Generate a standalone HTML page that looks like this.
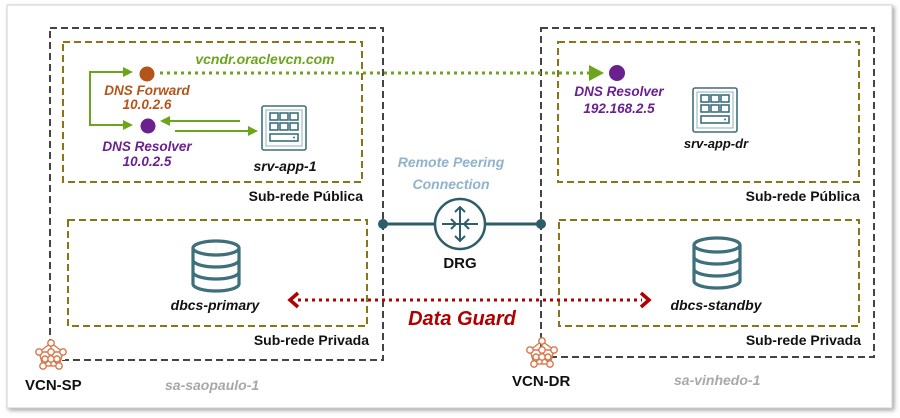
<!DOCTYPE html>
<html><head><meta charset="utf-8"><style>
html,body{margin:0;padding:0;background:#fff;}
svg{display:block;font-family:"Liberation Sans",sans-serif;}
</style></head><body>
<svg width="900" height="418" viewBox="0 0 900 418" xmlns="http://www.w3.org/2000/svg">
<defs>
<filter id="sh" x="-5%" y="-5%" width="110%" height="110%"><feDropShadow dx="2" dy="2" stdDeviation="2" flood-color="#000" flood-opacity="0.35"/></filter>
<g id="srv">
<rect x="0" y="0" width="44" height="44" rx="2" fill="#fff" stroke="#3d6f7c" stroke-width="1.6"/>
<rect x="4" y="4" width="36" height="36" fill="none" stroke="#8fb0b8" stroke-width="1"/>
<rect x="8" y="7" width="8" height="7" fill="none" stroke="#3d6f7c" stroke-width="1.6"/>
<rect x="18" y="7" width="8" height="7" fill="none" stroke="#3d6f7c" stroke-width="1.6"/>
<rect x="28" y="7" width="8" height="7" fill="none" stroke="#3d6f7c" stroke-width="1.6"/>
<rect x="8" y="17" width="8" height="7" fill="none" stroke="#3d6f7c" stroke-width="1.6"/>
<rect x="18" y="17" width="8" height="7" fill="none" stroke="#3d6f7c" stroke-width="1.6"/>
<rect x="28" y="17" width="8" height="7" fill="none" stroke="#3d6f7c" stroke-width="1.6"/>
<rect x="8" y="28" width="28" height="7" fill="none" stroke="#3d6f7c" stroke-width="1.6"/>
<circle cx="32" cy="31.5" r="1" fill="#3d6f7c"/>
</g>
<g id="db" fill="none" stroke="#3d6f7c" stroke-width="3.2">
<path d="M2 8 A23 7 0 0 1 48 8 L48 44 A23 7 0 0 1 2 44 Z"/>
<path d="M2 8 A23 7 0 0 0 48 8"/>
<path d="M2 20 A23 7 0 0 0 48 20"/>
<path d="M2 32 A23 7 0 0 0 48 32"/>
</g>
<g id="vcn" fill="#fff" stroke="#d9764a" stroke-width="1.4">
<line x1="0" y1="-13" x2="-12" y2="-4"/><line x1="0" y1="-13" x2="12" y2="-4"/>
<line x1="-12" y1="-4" x2="-8" y2="10"/><line x1="12" y1="-4" x2="8" y2="10"/><line x1="-8" y1="10" x2="8" y2="10"/>
<line x1="0" y1="-13" x2="0" y2="10"/><line x1="-12" y1="-4" x2="12" y2="-4"/><line x1="-8" y1="10" x2="0" y2="2"/><line x1="8" y1="10" x2="0" y2="2"/>
<circle cx="0" cy="-13" r="3.2"/><circle cx="-12" cy="-4" r="3.2"/><circle cx="12" cy="-4" r="3.2"/>
<circle cx="-8" cy="10" r="3.2"/><circle cx="8" cy="10" r="3.2"/><circle cx="0" cy="-4" r="3.2"/><circle cx="0" cy="3" r="3.2"/>
<circle cx="-6" cy="3" r="3"/><circle cx="6" cy="3" r="3"/>
</g>
</defs>
<rect x="7" y="5" width="885" height="403" fill="#fff" stroke="#d0d0d0" stroke-width="1" filter="url(#sh)"/>

<!-- VCN boxes -->
<rect x="50" y="28" width="333" height="332" fill="none" stroke="#444" stroke-width="2" stroke-dasharray="7,4"/>
<rect x="541" y="28" width="333" height="329" fill="none" stroke="#444" stroke-width="2" stroke-dasharray="7,4"/>
<!-- subnets -->
<g fill="none" stroke="#8a7413" stroke-width="2" stroke-dasharray="7,4">
<rect x="63" y="42" width="299" height="140"/>
<rect x="68" y="220" width="299" height="106"/>
<rect x="558" y="42" width="301" height="140"/>
<rect x="559" y="220" width="300" height="106"/>
</g>
<g font-size="14" font-weight="bold" fill="#111" text-anchor="end">
<text x="363" y="201">Sub-rede Pública</text>
<text x="369" y="345">Sub-rede Privada</text>
<text x="860" y="201">Sub-rede Pública</text>
<text x="861" y="345">Sub-rede Privada</text>
</g>

<!-- VCN icons -->
<use href="#vcn" x="51" y="356"/>
<use href="#vcn" x="542" y="354"/>
<rect x="62" y="359" width="3" height="1" fill="#fff"/>
<g font-size="15" font-weight="bold" fill="#111">
<text x="25" y="390">VCN-SP</text>
<text x="512" y="386">VCN-DR</text>
</g>
<g font-size="14" font-weight="bold" font-style="italic" fill="#a8a8a8">
<text x="165" y="390">sa-saopaulo-1</text>
<text x="674" y="385">sa-vinhedo-1</text>
</g>

<!-- DRG -->
<line x1="383" y1="224" x2="541" y2="224" stroke="#2d5d6a" stroke-width="3"/>
<circle cx="383" cy="224" r="5" fill="#2d5d6a"/>
<circle cx="541" cy="224" r="5" fill="#2d5d6a"/>
<circle cx="460" cy="224" r="25" fill="#fff" stroke="#2d5d6a" stroke-width="2.5"/>
<g stroke="#2d5d6a" stroke-width="2" fill="none">
<line x1="442" y1="224" x2="478" y2="224"/>
<line x1="460" y1="208" x2="460" y2="240"/>
<polyline points="455,212 460,207 465,212"/><polyline points="455,236 460,241 465,236"/>
<polyline points="451,219 456,224 451,229"/><polyline points="469,219 464,224 469,229"/>
</g>
<text x="460" y="268" font-size="15" font-weight="bold" fill="#111" text-anchor="middle">DRG</text>
<g font-size="14" font-weight="bold" font-style="italic" fill="#8fb3cc" text-anchor="middle">
<text x="451" y="167">Remote Peering</text>
<text x="451" y="189">Connection</text>
</g>

<!-- DNS left -->
<circle cx="147" cy="74" r="7.5" fill="#b5541a"/>
<circle cx="148" cy="126" r="7.5" fill="#6b2090"/>
<g font-size="13.5" font-weight="bold" font-style="italic" text-anchor="middle">
<text x="147" y="95" fill="#b5541a">DNS Forward</text>
<text x="147" y="109" fill="#b5541a">10.0.2.6</text>
<text x="147" y="151" fill="#6b2090">DNS Resolver</text>
<text x="147" y="166" fill="#6b2090">10.0.2.5</text>
</g>
<g stroke="#6aa51c" stroke-width="2" fill="none">
<polyline points="125,72 90,72 90,125 125,125"/>
<line x1="240" y1="121" x2="170" y2="121"/>
<line x1="175" y1="131" x2="250" y2="131"/>
</g>
<g fill="#6aa51c">
<polygon points="133,72 123,67 123,77"/>
<polygon points="133,125 123,120 123,130"/>
<polygon points="160,121 170,116 170,126"/>
<polygon points="258,131 248,126 248,136"/>
</g>
<use href="#srv" x="262" y="106"/>
<text x="285" y="171" font-size="14" font-weight="bold" font-style="italic" fill="#111" text-anchor="middle">srv-app-1</text>

<!-- green dotted link -->
<line x1="160" y1="73" x2="590" y2="73" stroke="#6aa51c" stroke-width="3" stroke-dasharray="3,4"/>
<polygon points="604,73 589,65 589,81" fill="#6aa51c"/>
<circle cx="617" cy="73" r="8" fill="#6b2090"/>
<text x="265" y="64" font-size="14" font-weight="bold" font-style="italic" fill="#6aa51c" text-anchor="middle">vcndr.oraclevcn.com</text>
<g font-size="13.5" font-weight="bold" font-style="italic" fill="#6b2090" text-anchor="middle">
<text x="619" y="96">DNS Resolver</text>
<text x="619" y="113">192.168.2.5</text>
</g>
<use href="#srv" x="693" y="88"/>
<text x="716" y="148" font-size="13" font-weight="bold" font-style="italic" fill="#111" text-anchor="middle">srv-app-dr</text>

<!-- DBs -->
<use href="#db" x="191" y="240"/>
<use href="#db" x="692" y="237"/>
<g font-size="14" font-weight="bold" font-style="italic" fill="#111" text-anchor="middle">
<text x="215" y="310">dbcs-primary</text>
<text x="716" y="310">dbcs-standby</text>
</g>

<!-- Data guard -->
<line x1="298" y1="300" x2="642" y2="300" stroke="#b00000" stroke-width="3" stroke-dasharray="3,4"/>
<polyline points="298,293 290,300 298,307" fill="none" stroke="#b00000" stroke-width="3.5"/>
<polyline points="641,293 649,300 641,307" fill="none" stroke="#b00000" stroke-width="3.5"/>
<text x="462" y="325" font-size="20" font-weight="bold" font-style="italic" fill="#b00000" text-anchor="middle">Data Guard</text>
</svg>
</body></html>
